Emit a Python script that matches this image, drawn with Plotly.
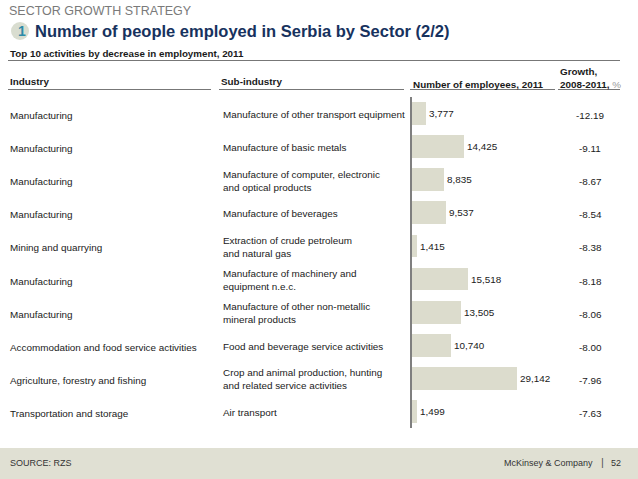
import plotly.graph_objects as go

industries = ["Manufacturing", "Manufacturing", "Manufacturing", "Manufacturing",
              "Mining and quarrying", "Manufacturing", "Manufacturing",
              "Accommodation and food service activities",
              "Agriculture, forestry and fishing", "Transportation and storage"]
sub_industries = ["Manufacture of other transport equipment",
                  "Manufacture of basic metals",
                  "Manufacture of computer, electronic<br>and optical products",
                  "Manufacture of beverages",
                  "Extraction of crude petroleum<br>and natural gas",
                  "Manufacture of machinery and<br>equipment n.e.c.",
                  "Manufacture of other non-metallic<br>mineral products",
                  "Food and beverage service activities",
                  "Crop and animal production, hunting<br>and related service activities",
                  "Air transport"]
employees = [3777, 14425, 8835, 9537, 1415, 15518, 13505, 10740, 29142, 1499]
growth = [-12.19, -9.11, -8.67, -8.54, -8.38, -8.18, -8.06, -8.00, -7.96, -7.63]

W, H = 638, 479
FONT = "Liberation Sans, Arial, Helvetica, sans-serif"
TXT = "#1a1a1a"
FS = 9.9

def px(x):
    return x / W

def py(y):
    return 1 - y / H

rows = list(range(len(employees)))

fig = go.Figure()
fig.add_trace(go.Bar(
    x=employees, y=rows, orientation="h",
    marker=dict(color="#dcdccd", line=dict(width=0)),
    width=0.69,
    text=[f"{v:,}" for v in employees],
    textposition="outside",
    textfont=dict(family=FONT, size=FS, color=TXT),
    cliponaxis=False,
    hoverinfo="skip",
))

x0, x1 = 412, 560
xmax = 29142 * (x1 - x0) / 105.0

ann = []
for i in rows:
    ann.append(dict(x=px(8), y=i, xref="paper", yref="y", text=industries[i],
                    showarrow=False, xanchor="left", yanchor="middle", yshift=-2,
                    align="left", font=dict(family=FONT, size=FS, color=TXT)))
    ann.append(dict(x=px(221), y=i, xref="paper", yref="y", text=sub_industries[i],
                    showarrow=False, xanchor="left", yanchor="middle", yshift=-1,
                    align="left", font=dict(family=FONT, size=FS, color=TXT)))
    ann.append(dict(x=px(590), y=i, xref="paper", yref="y", text=f"{growth[i]:.2f}",
                    showarrow=False, xanchor="center", yanchor="middle", yshift=-2,
                    font=dict(family=FONT, size=FS, color=TXT)))

def text(x, y, t, size, color=TXT, bold=False, anchor="left"):
    ann.append(dict(x=px(x), y=py(y), xref="paper", yref="paper",
                    text=f"<b>{t}</b>" if bold else t, showarrow=False,
                    xanchor=anchor, yanchor="middle", align="left",
                    font=dict(family=FONT, size=size, color=color)))

text(7, 11, "SECTOR GROWTH STRATEGY", 12.5, color="#7a7a7a")
text(33, 31, "Number of people employed in Serbia by Sector (2/2)", 16.5,
     color="#17325e", bold=True)
text(15.5, 31, "1", 14, color="#2d8aa8", bold=True)
text(8, 53, "Top 10 activities by decrease in employment, 2011", 9.8, bold=True)
text(8, 82, "Industry", FS, bold=True)
text(219, 82, "Sub-industry", FS, bold=True)
text(411, 84, "Number of employees, 2011", FS, bold=True)
ann.append(dict(x=px(558), y=py(78), xref="paper", yref="paper",
                text="<b>Growth,</b><br><b>2008-2011, </b><span style='color:#999'>%</span>",
                showarrow=False, xanchor="left", yanchor="middle", align="left",
                font=dict(family=FONT, size=FS, color=TXT)))
text(8, 463, "SOURCE: RZS", 9, color="#333")
text(595, 463, "McKinsey & Company", 9, color="#333", anchor="right")
text(602, 462, "|", 11, color="#555", anchor="center")
text(609, 463, "52", 9, color="#333")

shapes = [
    dict(type="rect", xref="paper", yref="paper", x0=0, x1=1, y0=0, y1=py(448),
         fillcolor="#e0e0d3", line=dict(width=0), layer="below"),
    dict(type="circle", xref="paper", yref="paper", x0=px(11), x1=px(29),
         y0=py(40), y1=py(22), fillcolor="#d9ddd0", line=dict(width=0), layer="below"),
]
def hline(xa, xb, y, color="#777", w=1):
    shapes.append(dict(type="line", xref="paper", yref="paper", x0=px(xa), x1=px(xb),
                       y0=py(y), y1=py(y), line=dict(color=color, width=w)))
hline(8, 620, 60.5)
hline(8, 211, 89.5)
hline(219, 404, 89.5)
hline(410, 555, 89.5)
hline(558, 620, 89.5)

fig.update_layout(
    width=W, height=H, margin=dict(l=0, r=0, t=0, b=0),
    paper_bgcolor="white", plot_bgcolor="rgba(0,0,0,0)",
    showlegend=False, bargap=0,
    xaxis=dict(domain=[px(x0), px(x1)], range=[0, xmax], visible=False, fixedrange=True),
    yaxis=dict(domain=[py(428), py(97)], range=[9.5, -0.5], showticklabels=False,
               showgrid=False, zeroline=False, showline=True, linecolor="#7f7f7f",
               linewidth=2, ticks="", fixedrange=True),
    annotations=ann, shapes=shapes,
)

fig.write_html("out.html", config={"displayModeBar": False},
               post_script="document.body.style.margin='0';document.body.style.overflow='hidden';")
